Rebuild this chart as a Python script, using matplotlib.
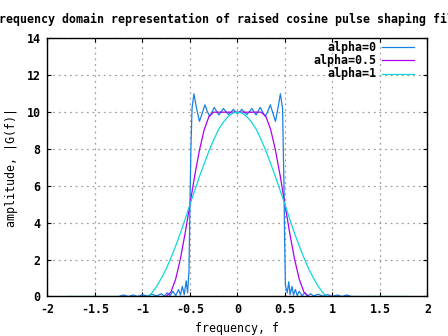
import numpy as np
import matplotlib.pyplot as plt
from matplotlib.lines import Line2D

plt.rcParams['font.family'] = 'DejaVu Sans Mono'
plt.rcParams['font.weight'] = 'bold'
plt.rcParams['font.size'] = 8.4
plt.rcParams['axes.unicode_minus'] = False

# alpha = 0 (truncated sinc -> rectangle with ripple)
f0 = [-1.25, -1.2, -1.15, -1.1, -1.05, -1.0, -0.95, -0.9, -0.85, -0.8, -0.77, -0.74,
      -0.71, -0.68, -0.65, -0.62, -0.6, -0.58, -0.56, -0.54, -0.525, -0.51, -0.5,
      -0.49, -0.478, -0.458, -0.43, -0.40, -0.37, -0.342, -0.318, -0.293, -0.268,
      -0.244, -0.22, -0.196, -0.172, -0.148, -0.12, -0.095, -0.068, -0.042, -0.02,
      0.0, 0.022, 0.046, 0.072, 0.099, 0.125, 0.152, 0.174, 0.196, 0.218, 0.240,
      0.266, 0.293, 0.32, 0.346, 0.373, 0.40, 0.426, 0.452, 0.475, 0.49, 0.497,
      0.505, 0.525, 0.54, 0.555, 0.575, 0.59, 0.61, 0.63, 0.65, 0.68, 0.71, 0.74,
      0.77, 0.8, 0.85, 0.9, 0.95, 1.0, 1.05, 1.1, 1.15, 1.2, 1.25]
g0 = [0.0, 0.08, 0.0, 0.08, 0.0, 0.1, 0.02, 0.12, 0.03, 0.15, 0.02, 0.2,
      0.04, 0.28, 0.05, 0.38, 0.08, 0.55, 0.1, 0.85, 0.2, 1.4, 5.0,
      8.0, 10.2, 11.0, 10.2, 9.5, 9.95, 10.4, 10.05, 9.77, 10.0,
      10.26, 10.05, 9.85, 10.02, 10.2, 10.02, 9.87, 10.0, 10.15, 10.02,
      9.92, 10.02, 10.15, 10.0, 9.87, 10.02, 10.2, 10.02, 9.85, 10.05, 10.26,
      10.0, 9.77, 10.05, 10.4, 9.95, 9.5, 10.2, 11.0, 10.2, 6.0, 3.0,
      0.6, 0.2, 0.8, 0.1, 0.55, 0.08, 0.38, 0.05, 0.28, 0.04, 0.2, 0.02,
      0.15, 0.03, 0.12, 0.02, 0.1, 0.0, 0.08, 0.0, 0.08, 0.0, 0.0]

# alpha = 0.5
f05 = [-0.75, -0.7, -0.65, -0.6, -0.55, -0.5, -0.45, -0.4, -0.35, -0.3, -0.25,
       0.25, 0.3, 0.35, 0.4, 0.45, 0.5, 0.55, 0.6, 0.65, 0.7, 0.75]
g05 = [0.0, 0.24, 0.95, 2.06, 3.45, 5.0, 6.55, 7.94, 9.05, 9.76, 10.0,
       10.0, 9.76, 9.05, 7.94, 6.55, 5.0, 3.45, 2.06, 0.95, 0.24, 0.0]

# alpha = 1
f1 = [-1.78, -1.25, np.nan, -0.94, -0.9, -0.85, -0.8, -0.75, -0.7, -0.65, -0.6,
      -0.55, -0.5, -0.45, -0.4, -0.35, -0.3, -0.25, -0.2, -0.15, -0.1, -0.05, 0.0,
      0.05, 0.1, 0.15, 0.2, 0.25, 0.3, 0.35, 0.4, 0.45, 0.5, 0.55, 0.6, 0.65,
      0.7, 0.75, 0.8, 0.85, 0.9, 0.94, np.nan, 1.25, 1.78]
g1 = [0.0, 0.0, np.nan, 0.0, 0.2, 0.55, 1.0, 1.5, 2.1, 2.75, 3.45,
      4.2, 5.0, 5.75, 6.5, 7.2, 7.9, 8.5, 9.05, 9.45, 9.75, 9.95, 10.0,
      9.95, 9.75, 9.45, 9.05, 8.5, 7.9, 7.2, 6.5, 5.75, 5.0, 4.2, 3.45, 2.75,
      2.1, 1.5, 1.0, 0.55, 0.2, 0.0, np.nan, 0.0, 0.0]

labels = ['alpha=0', 'alpha=0.5', 'alpha=1']
colors = ['#1a80e6', '#aa00ee', '#10d8d8']

fig = plt.figure(figsize=(4.48, 3.36), dpi=100)
ax = fig.add_axes([0.106, 0.1176, 0.848, 0.768])

ax.plot(f0, g0, color=colors[0], lw=0.9)
ax.plot(f05, g05, color=colors[1], lw=0.9)
ax.plot(f1, g1, color=colors[2], lw=0.9)

ax.set_xlim(-2, 2)
ax.set_ylim(0, 14)
ax.set_xticks([-2, -1.5, -1, -0.5, 0, 0.5, 1, 1.5, 2])
ax.set_xticklabels(['-2', '-1.5', '-1', '-0.5', '0', '0.5', '1', '1.5', '2'])
ax.set_yticks(range(0, 15, 2))
ax.tick_params(direction='in', length=3, width=0.8, top=True, right=True, pad=5)
ax.grid(True, color='#a0a0a0', lw=0.9, linestyle=(0, (1.5, 3)))
for s in ax.spines.values():
    s.set_linewidth(1.0)

ax.set_xlabel('frequency, f', labelpad=4)
ax.set_ylabel('amplitude, |G(f)|', labelpad=6)
# title is wider than the figure, clipped at both sides like the original
fig.text(0.521, 0.943, 'frequency domain representation of raised cosine pulse shaping filter',
         ha='center', va='center')

# legend, gnuplot style: right-aligned text with sample line to the right
rows = [47, 60.3, 73.5]
for lab, c, yp in zip(labels, colors, rows):
    yf = 1 - yp / 336.0
    fig.text(376 / 448.0, yf, lab, ha='right', va='center')
    fig.add_artist(Line2D([382 / 448.0, 414 / 448.0], [yf, yf], color=c, lw=0.9))

fig.savefig('out.png', dpi=100)
